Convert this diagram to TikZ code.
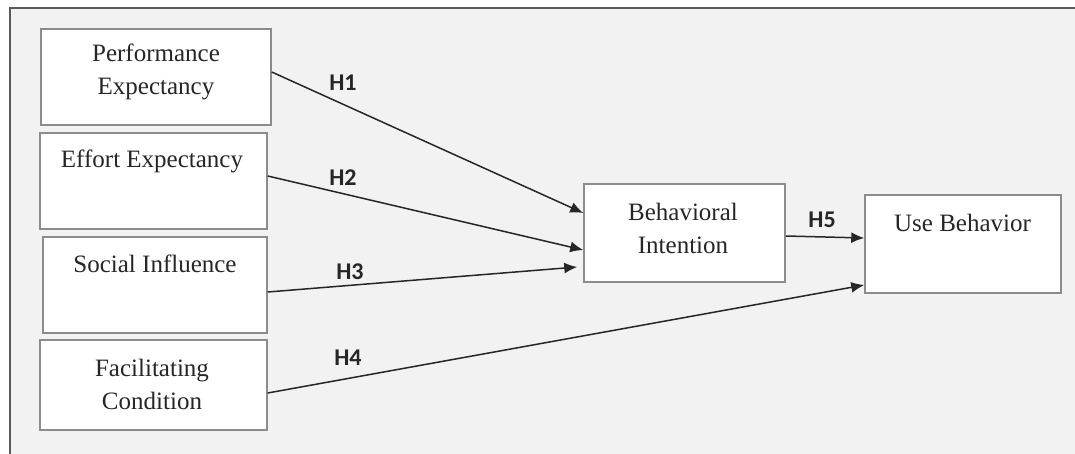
\documentclass[tikz,border=0pt]{standalone}
\usepackage{fontspec}
\setmainfont{Liberation Serif}
\newfontfamily\hfont{Carlito}
\usetikzlibrary{calc,arrows.meta}
\definecolor{bggrey}{HTML}{F2F2F2}
\definecolor{framegrey}{HTML}{5A5A5A}
\definecolor{boxgrey}{HTML}{8C8C8C}
\definecolor{inkgrey}{HTML}{262626}

\begin{document}
\begin{tikzpicture}[x=1pt,y=-1pt]
                      \tikzstyle{box}=[draw=boxgrey,line width=1.5pt,fill=white,inner sep=0pt]
                      \tikzstyle{txt}=[align=center,inner sep=0pt,text=inkgrey,font=\fontsize{25}{33}\selectfont]
                      \tikzstyle{hyp}=[inner sep=0pt,text=inkgrey,font=\hfont\bfseries\fontsize{24}{24}\selectfont]
                      \tikzstyle{link}=[draw=inkgrey,line width=1.5pt,-{Latex[length=13pt,width=11pt]}]
                      \useasboundingbox (0,0) rectangle (1075,454);
                      \fill[bggrey] (10,8) rectangle (1075,454);
                      \draw[framegrey,line width=1.5pt] (10,454) -- (10,8) -- (1075,8);
                      % boxes
                      \node[box,minimum width=230pt,minimum height=96pt] (pe) at (156,77) {};
                      \node[box,minimum width=227pt,minimum height=96pt] (ee) at (153.5,181) {};
                      \node[box,minimum width=224pt,minimum height=96pt] (si) at (155,285) {};
                      \node[box,minimum width=227pt,minimum height=90pt] (fc) at (153.5,385) {};
                      \node[box,minimum width=201pt,minimum height=98pt] (bi) at (684.5,233) {};
                      \node[box,minimum width=196pt,minimum height=98pt] (ub) at (963,244) {};
                      % texts
                      \node[txt] (pet) at (156,72) {Performance\\Expectancy};
                      \node[txt] (eet) at (152,161) {Effort Expectancy};
                      \node[txt] (sit) at (155,264) {Social Influence};
                      \node[txt] (fct) at (152,384) {Facilitating\\Condition};
                      \node[txt] (bit) at (683,228) {Behavioral\\Intention};
                      \node[txt] (ubt) at (962.5,223) {Use Behavior};
                      % paths
                      \draw[link] ([yshift=5pt]pe.east) -- ([yshift=20pt]bi.west);
                      \draw[link] ([yshift=5pt]ee.east) -- ([yshift=-17pt]bi.west);
                      \draw[link] ([yshift=-7pt]si.east) -- ([xshift=-6pt,yshift=-34pt]bi.west);
                      \draw[link] ([yshift=-8pt]fc.east) -- ([yshift=-41pt]ub.west);
                      \draw[link] ([yshift=-3pt]bi.east) -- ([yshift=6pt]ub.west);
                      \node[hyp] (h1) at (343,83) {H1};
                      \node[hyp] (h2) at (343,178) {H2};
                      \node[hyp] (h3) at (350,272) {H3};
                      \node[hyp] (h4) at (348,358) {H4};
                      \node[hyp] (h5) at (822,220) {H5};
                  \end{tikzpicture}
\end{document}
